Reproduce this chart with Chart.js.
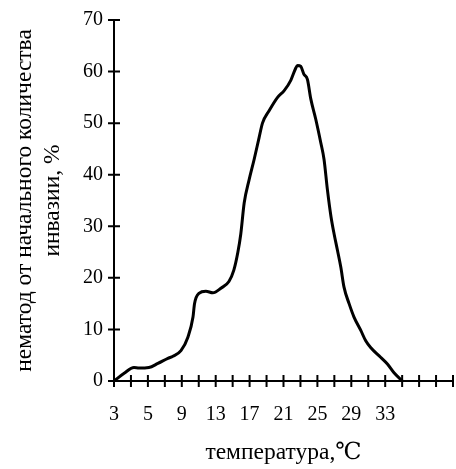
<!DOCTYPE html>
<html>
<head>
<meta charset="utf-8">
<script src="https://cdn.jsdelivr.net/npm/chart.js@4"></script>
<style>
  html, body { margin: 0; padding: 0; background: #fff; }
  #wrap { width: 456px; height: 469px; }
</style>
</head>
<body>
<div id="wrap"><canvas id="tempChart"></canvas></div>
<script>
// tick labels of the category axis (one per tick position)
const tempLabels = ["3", "", "5", "", "9", "", "13", "", "17", "", "21", "",
                    "25", "", "29", "", "33", "", "", "", ""];

// curve: position along the temperature axis and share of invasion, %
const tempPos = [0, 0.6, 1.18, 1.47, 2.06, 2.59, 3.18, 3.48, 3.95, 4.36, 4.66,
                 4.75, 5.01, 5.42, 5.83, 6.31, 6.78, 7.07, 7.31, 7.48, 7.68,
                 7.97, 8.27, 8.56, 8.76, 9.15, 9.65, 10.04, 10.43, 10.7, 10.83,
                 11.02, 11.2, 11.41, 11.61, 11.9, 12.2, 12.39, 12.59, 12.8,
                 12.98, 13.18, 13.38, 13.57, 13.87, 14.16, 14.56, 14.85, 15.14,
                 15.73, 16.13, 16.52, 17.01];
const invasion = [0, 1.5, 2.6, 2.5, 2.6, 3.4, 4.4, 4.8, 5.9, 8.5, 12.4,
                  15, 17, 17.4, 17.1, 18, 19.3, 21.5, 25, 28.5, 34.5,
                  39, 43, 47.2, 50, 52.4, 55, 56.3, 58.3, 60.5, 61.2,
                  61.0, 59.5, 58.5, 54.7, 50.8, 46.2, 43, 37.1, 31.9,
                  28.6, 25.4, 22.1, 18.2, 15, 12.4, 9.8, 7.8, 6.5,
                  4.6, 3.3, 1.6, 0];

const points = tempPos.map((x, i) => ({ x: x, y: invasion[i] }));

// tick marks crossing the axis lines
const crossTicks = {
    id: "crossTicks",
    afterDraw(chart) {
        const ctx = chart.ctx;
        const xs = chart.scales.x;
        const ys = chart.scales.y;
        const len = 6;
        ctx.save();
        ctx.strokeStyle = "#000";
        ctx.lineWidth = 2;
        ctx.beginPath();
        for (let i = 0; i < tempLabels.length; i++) {
            const px = xs.getPixelForValue(i);
            ctx.moveTo(px, ys.bottom + len);
            ctx.lineTo(px, ys.bottom - len);
        }
        for (let v = 0; v <= 70; v += 10) {
            const py = ys.getPixelForValue(v);
            ctx.moveTo(xs.left - len, py);
            ctx.lineTo(xs.left + len, py);
        }
        ctx.stroke();
        ctx.restore();
    }
};

const serif = "'Liberation Serif', 'DejaVu Serif', 'Times New Roman', serif";

new Chart(document.getElementById("tempChart"), {
    type: "line",
    data: {
        datasets: [{
            data: points,
            borderColor: "#000",
            borderWidth: 3,
            pointRadius: 0,
            tension: 0.3,
            cubicInterpolationMode: "monotone",
            fill: false
        }]
    },
    options: {
        responsive: true,
        maintainAspectRatio: false,
        animation: false,
        layout: { padding: { top: 0, right: 3, left: 0, bottom: 0 } },
        plugins: { legend: { display: false }, tooltip: { enabled: false } },
        scales: {
            x: {
                type: "linear",
                min: 0,
                max: 20,
                afterFit: (s) => { s.height = 88; },
                grid: { drawOnChartArea: false, tickColor: "transparent", tickLength: 20 },
                border: { color: "#000", width: 2 },
                ticks: {
                    stepSize: 1,
                    autoSkip: false,
                    maxRotation: 0,
                    color: "#000",
                    padding: 2,
                    font: { family: serif, size: 20 },
                    callback: (v) => tempLabels[v] !== undefined ? tempLabels[v] : ""
                },
                title: {
                    display: true,
                    text: "температура,℃",
                    color: "#000",
                    padding: { top: 0, bottom: 2 },
                    font: { family: serif, size: 23.5 }
                }
            },
            y: {
                min: 0,
                max: 70,
                afterFit: (s) => { s.width = 114; },
                grid: { drawOnChartArea: false, tickColor: "transparent", tickLength: 3 },
                border: { color: "#000", width: 2 },
                ticks: {
                    stepSize: 10,
                    color: "#000",
                    padding: 8,
                    font: { family: serif, size: 20 }
                },
                title: {
                    display: true,
                    text: ["нематод от начального количества", "инвазии, %"],
                    color: "#000",
                    padding: { top: 11, bottom: 0 },
                    font: { family: serif, size: 23.5, lineHeight: 1.2 }
                }
            }
        }
    },
    plugins: [crossTicks]
});
</script>
</body>
</html>
